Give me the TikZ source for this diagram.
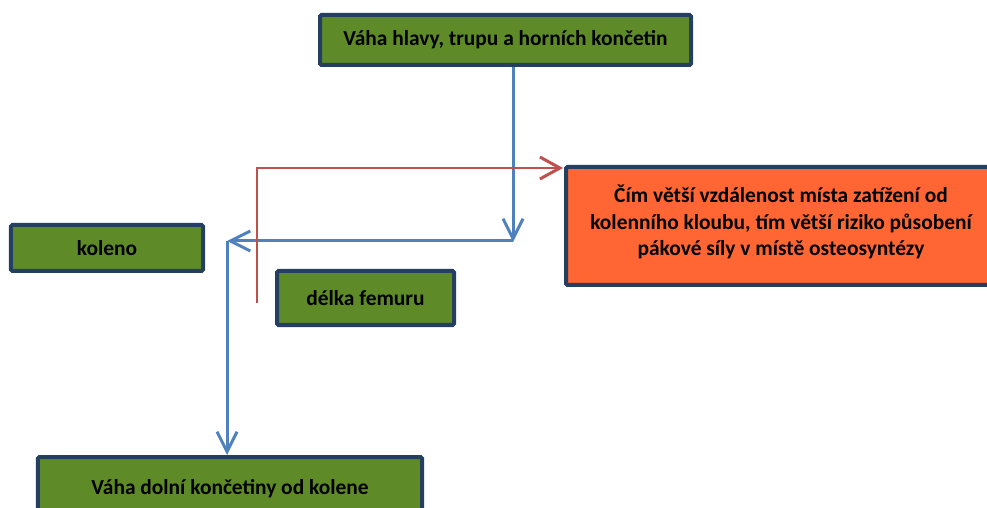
\documentclass[tikz,border=0pt]{standalone}
\usepackage{fontspec}
\setmainfont{Carlito}
\usetikzlibrary{arrows.meta}
\definecolor{boxgreen}{HTML}{5E8B28}
\definecolor{boxborder}{HTML}{243F60}
\definecolor{boxorange}{HTML}{FF6633}
\definecolor{lineblue}{HTML}{4F81BD}
\definecolor{linered}{HTML}{C0504D}
\tikzset{
  greenbox/.style={draw=boxborder, fill=boxgreen, line width=4bp, rounded corners=1.5bp,
    inner sep=0pt, font=\bfseries\fontsize{21.5}{26}\selectfont, text=black},
  orangebox/.style={draw=boxborder, fill=boxorange, line width=4bp, rounded corners=1.5bp,
    inner sep=0pt},
  boxtext/.style={inner sep=0pt, align=center, font=\bfseries\fontsize{21.5}{26.5}\selectfont, text=black},
  bluearrow/.style={draw=lineblue, line width=3bp, -{Straight Barb[length=20bp,width=20bp,line width=3bp]}},
  redarrow/.style={draw=linered, line width=2.5bp, -{Straight Barb[length=20bp,width=22bp,line width=3bp]}},
}
\begin{document}
\begin{tikzpicture}[x=1bp,y=-1bp]
\useasboundingbox (0,0) rectangle (987,508);
\clip (0,0) rectangle (987,508);
\fill[white] (0,0) rectangle (987,508);
\node[greenbox, minimum width=371bp, minimum height=50bp] (top) at (505.5,40) {Váha hlavy, trupu a horních končetin};
\node[greenbox, minimum width=192bp, minimum height=46bp] (kol) at (107,248) {\raisebox{-3pt}{koleno}};
\node[greenbox, minimum width=177bp, minimum height=54bp] (fem) at (365.5,298) {délka femuru};
\node[greenbox, minimum width=384bp, minimum height=66bp] (bot) at (230,490) {\raisebox{6pt}{Váha dolní končetiny od kolene}};
\node[orangebox, minimum width=520bp, minimum height=118bp] (ora) at (826,226) {};
\node[boxtext] (oratxt) at (781,222) {Čím větší vzdálenost místa zatížení od\\kolenního kloubu, tím větší riziko působení\\pákové síly v místě osteosyntézy};
\coordinate (c1) at (513,241);
\coordinate (c2) at (227,241);
\coordinate (r0) at (257,303);
\coordinate (r1) at (563,168);
\draw[bluearrow] (c1 |- top.south) -- ([yshift=-1bp]c1);
\draw[bluearrow] (c1) -- (c2);
\draw[bluearrow] (c2) -- (c2 |- bot.north);
\draw[redarrow] (r0) |- (r1);
\end{tikzpicture}
\end{document}
